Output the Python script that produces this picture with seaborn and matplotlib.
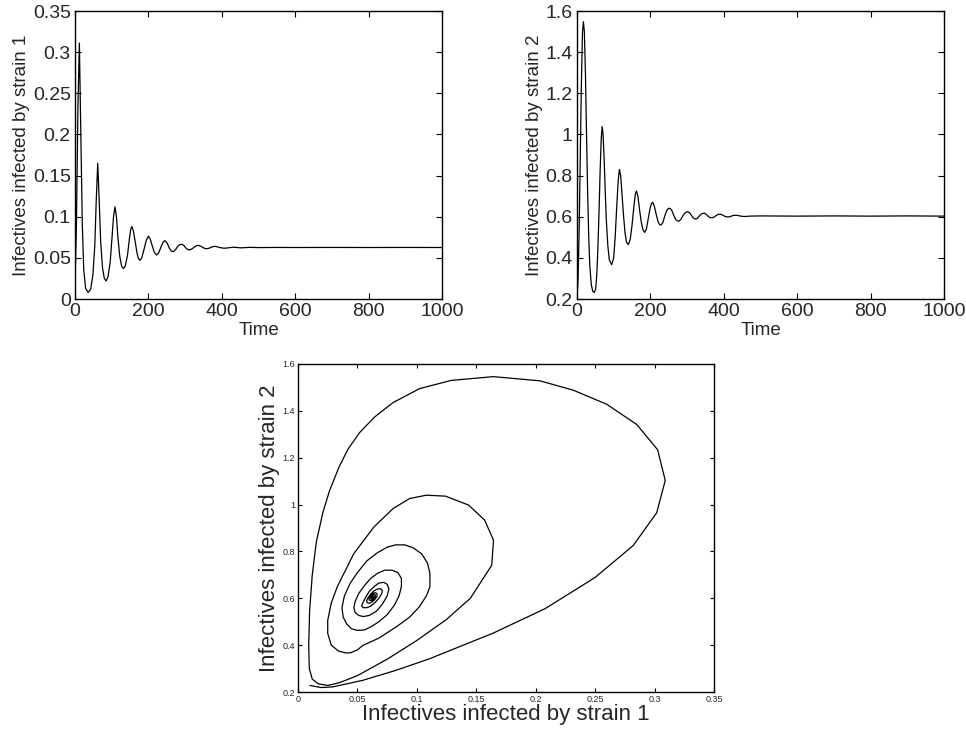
import numpy as np
import pandas as pd
import matplotlib
matplotlib.use("Agg")
import matplotlib.pyplot as plt
import seaborn as sns

# ---------------- data ----------------
# Strain 1 time series (time, value)
s1_time = [0, 4, 8, 12, 16, 20, 24, 29, 36, 43, 49, 54, 58, 62, 66, 70, 75, 80, 85, 90,
           96, 101, 105, 109, 113, 117, 122, 127, 132, 137, 143, 148, 152, 155, 159, 164,
           169, 173, 177, 182, 188, 194, 200, 205, 211, 216, 222, 228, 234, 240, 245, 251,
           257, 262, 268, 274, 280, 286, 291, 297, 303, 308, 313, 319, 326, 331, 337, 343,
           349, 355, 360, 366, 372, 378, 383, 395, 406, 418, 430, 441, 452, 476, 500, 550,
           600, 700, 800, 900, 1000]
s1_value = [0.017, 0.09, 0.23, 0.311, 0.2, 0.09, 0.035, 0.013, 0.008, 0.012, 0.03, 0.065,
            0.12, 0.165, 0.12, 0.07, 0.038, 0.025, 0.022, 0.027, 0.045, 0.075, 0.1, 0.112,
            0.1, 0.075, 0.052, 0.04, 0.037, 0.04, 0.053, 0.072, 0.085, 0.088, 0.083, 0.07,
            0.056, 0.049, 0.047, 0.05, 0.06, 0.071, 0.0765, 0.073, 0.064, 0.057, 0.0535,
            0.056, 0.063, 0.069, 0.071, 0.068, 0.062, 0.0585, 0.0575, 0.06, 0.064, 0.0662,
            0.0665, 0.065, 0.0615, 0.06, 0.0597, 0.061, 0.0635, 0.0648, 0.0652, 0.0642,
            0.0625, 0.0613, 0.0612, 0.0618, 0.0632, 0.0638, 0.064, 0.0625, 0.0617, 0.0622,
            0.063, 0.0626, 0.0622, 0.0628, 0.0625, 0.0627, 0.0626, 0.0627, 0.0626, 0.0627,
            0.0626]

# Strain 2 time series (time, value)
s2_time = [0, 3, 6, 9, 12, 15, 17.5, 20, 23, 26, 29, 32, 35, 39, 43, 47.5, 51, 54, 57, 60,
           63, 66, 68.5, 71, 74, 77, 80, 84, 88, 94.5, 100, 104, 108, 112, 115.5, 119, 123,
           127, 131, 135, 140, 145, 150, 155, 159, 162, 166, 170, 175, 180, 184.5, 189, 194,
           199, 203, 206.5, 211, 216, 221, 225, 229, 234, 239, 244, 249, 253.5, 258, 263,
           268, 273, 278, 283, 288, 293, 298, 302, 307, 312, 317, 322, 327, 333, 339, 346,
           352, 358, 363, 369, 375, 381, 387, 392, 398, 404, 410, 416, 422, 428, 436, 446,
           456, 470, 500, 600, 700, 800, 900, 1000]
s2_value = [0.205, 0.3, 0.55, 0.9, 1.25, 1.5, 1.548, 1.5, 1.3, 1.0, 0.72, 0.5, 0.36, 0.27,
            0.237, 0.232, 0.25, 0.32, 0.45, 0.62, 0.82, 0.98, 1.038, 1.0, 0.88, 0.72, 0.58,
            0.46, 0.39, 0.367, 0.4, 0.5, 0.64, 0.77, 0.83, 0.8, 0.7, 0.6, 0.52, 0.475, 0.465,
            0.49, 0.56, 0.65, 0.71, 0.725, 0.7, 0.64, 0.575, 0.535, 0.524, 0.54, 0.59, 0.64,
            0.665, 0.67, 0.65, 0.61, 0.575, 0.562, 0.56, 0.572, 0.603, 0.628, 0.64, 0.641,
            0.632, 0.61, 0.59, 0.58, 0.579, 0.587, 0.603, 0.616, 0.623, 0.624, 0.619, 0.606,
            0.594, 0.589, 0.591, 0.603, 0.614, 0.618, 0.612, 0.601, 0.596, 0.595, 0.6, 0.608,
            0.612, 0.612, 0.607, 0.601, 0.599, 0.6, 0.604, 0.607, 0.607, 0.603, 0.601, 0.603,
            0.604, 0.603, 0.604, 0.603, 0.604, 0.603]

# Phase-plane trajectory (strain 1, strain 2), in time order
phase_s1 = [0.010, 0.0196, 0.0294, 0.0546, 0.0827, 0.1107, 0.1387, 0.1645, 0.208, 0.25,
            0.282, 0.3018, 0.309, 0.3026, 0.285, 0.2598, 0.2317, 0.2037, 0.1645, 0.129,
            0.1023, 0.0799, 0.0645, 0.0518, 0.042, 0.0345, 0.0266, 0.021, 0.0154, 0.012,
            0.0098, 0.009, 0.0095, 0.012, 0.017, 0.025, 0.035, 0.05, 0.075, 0.1, 0.125,
            0.145, 0.163, 0.1645, 0.157, 0.1435, 0.124, 0.108, 0.094, 0.080, 0.064, 0.047,
            0.033, 0.028, 0.025, 0.025, 0.028, 0.034, 0.04, 0.044, 0.05, 0.0546, 0.068,
            0.0827, 0.094, 0.102, 0.108, 0.111, 0.111, 0.109, 0.104, 0.097, 0.09, 0.082,
            0.075, 0.067, 0.058, 0.05, 0.044, 0.039, 0.037, 0.038, 0.041, 0.045, 0.05,
            0.056, 0.062, 0.068, 0.075, 0.081, 0.085, 0.087, 0.087, 0.084, 0.079, 0.073,
            0.067, 0.061, 0.056, 0.051, 0.048, 0.047, 0.048, 0.051, 0.055, 0.06, 0.066,
            0.071, 0.075, 0.0765, 0.075, 0.072, 0.068, 0.064, 0.06, 0.057, 0.0545, 0.0535,
            0.055, 0.058, 0.061, 0.065, 0.068, 0.0705, 0.071, 0.0695, 0.067, 0.064, 0.0615,
            0.059, 0.0578, 0.058, 0.06, 0.0625, 0.065, 0.0665, 0.0665, 0.065, 0.063, 0.061,
            0.0598, 0.0598, 0.061, 0.063, 0.0645, 0.0652, 0.0648, 0.063, 0.0615, 0.0612,
            0.0615, 0.063, 0.064, 0.0638, 0.0625, 0.0618, 0.0622, 0.063, 0.0626, 0.0624,
            0.0628]
phase_s2 = [0.228, 0.219, 0.222, 0.25, 0.293, 0.342, 0.399, 0.452, 0.556, 0.689, 0.825,
            0.965, 1.103, 1.234, 1.342, 1.428, 1.488, 1.528, 1.546, 1.530, 1.495, 1.435,
            1.374, 1.307, 1.236, 1.16, 1.06, 0.968, 0.84, 0.7, 0.55, 0.4, 0.3, 0.255, 0.235,
            0.228, 0.24, 0.27, 0.34, 0.42, 0.51, 0.6, 0.741, 0.848, 0.934, 0.998, 1.036,
            1.04, 1.026, 0.983, 0.905, 0.791, 0.649, 0.58, 0.506, 0.45, 0.4, 0.375, 0.367,
            0.367, 0.38, 0.399, 0.43, 0.478, 0.52, 0.563, 0.61, 0.649, 0.706, 0.75, 0.79,
            0.815, 0.828, 0.828, 0.818, 0.795, 0.76, 0.71, 0.665, 0.61, 0.56, 0.52, 0.49,
            0.47, 0.463, 0.465, 0.48, 0.5, 0.53, 0.57, 0.61, 0.65, 0.685, 0.71, 0.72, 0.72,
            0.707, 0.684, 0.655, 0.62, 0.585, 0.56, 0.54, 0.527, 0.522, 0.527, 0.545, 0.575,
            0.61, 0.64, 0.66, 0.668, 0.665, 0.65, 0.63, 0.605, 0.58, 0.567, 0.56, 0.56,
            0.566, 0.583, 0.6, 0.62, 0.633, 0.641, 0.64, 0.632, 0.62, 0.603, 0.59, 0.582,
            0.579, 0.585, 0.597, 0.61, 0.62, 0.624, 0.621, 0.612, 0.6, 0.593, 0.59, 0.593,
            0.6, 0.61, 0.616, 0.617, 0.61, 0.602, 0.596, 0.596, 0.603, 0.61, 0.611, 0.604,
            0.6, 0.603, 0.606, 0.603, 0.604]

s1_ticks = [0, 0.05, 0.1, 0.15, 0.2, 0.25, 0.3, 0.35]
s1_ticklabels = ["0", "0.05", "0.1", "0.15", "0.2", "0.25", "0.3", "0.35"]
s2_ticks = [0.2, 0.4, 0.6, 0.8, 1.0, 1.2, 1.4, 1.6]
s2_ticklabels = ["0.2", "0.4", "0.6", "0.8", "1", "1.2", "1.4", "1.6"]
time_ticks = [0, 200, 400, 600, 800, 1000]
time_ticklabels = ["0", "200", "400", "600", "800", "1000"]

# ---------------- plotting ----------------
sns.set_style("white")
plt.rcParams["font.family"] = ["Liberation Sans", "DejaVu Sans"]

fig = plt.figure(figsize=(9.66, 7.34), dpi=100)
ax1 = fig.add_axes([0.0776, 0.5926, 0.380, 0.3924])
ax2 = fig.add_axes([0.5973, 0.5926, 0.380, 0.3924])
ax3 = fig.add_axes([0.3085, 0.0572, 0.4306, 0.4469])

df1 = pd.DataFrame({"Time": s1_time, "I1": s1_value})
df2 = pd.DataFrame({"Time": s2_time, "I2": s2_value})
dfp = pd.DataFrame({"I1": phase_s1, "I2": phase_s2})

sns.lineplot(data=df1, x="Time", y="I1", ax=ax1, color="black", lw=0.9,
             estimator=None, sort=False)
sns.lineplot(data=df2, x="Time", y="I2", ax=ax2, color="black", lw=0.9,
             estimator=None, sort=False)
sns.lineplot(data=dfp, x="I1", y="I2", ax=ax3, color="black", lw=0.9,
             estimator=None, sort=False)

for ax in (ax1, ax2, ax3):
    for sp in ax.spines.values():
        sp.set_visible(True)
        sp.set_color("black")
        sp.set_linewidth(1.0)
    ax.tick_params(direction="in", top=True, right=True, bottom=True, left=True,
                   color="black", width=0.8)

# top-left
ax1.set_xlim(0, 1000)
ax1.set_ylim(0, 0.35)
ax1.set_xticks(time_ticks)
ax1.set_xticklabels(time_ticklabels)
ax1.set_yticks(s1_ticks)
ax1.set_yticklabels(s1_ticklabels)
ax1.tick_params(labelsize=14, length=4, pad=3)
ax1.set_xlabel("Time", fontsize=13.5, labelpad=1)
ax1.set_ylabel("Infectives infected by strain 1", fontsize=13.5, labelpad=2)

# top-right
ax2.set_xlim(0, 1000)
ax2.set_ylim(0.2, 1.6)
ax2.set_xticks(time_ticks)
ax2.set_xticklabels(time_ticklabels)
ax2.set_yticks(s2_ticks)
ax2.set_yticklabels(s2_ticklabels)
ax2.tick_params(labelsize=14, length=4, pad=3)
ax2.set_xlabel("Time", fontsize=13.5, labelpad=1)
ax2.set_ylabel("Infectives infected by strain 2", fontsize=13.5, labelpad=2)

# bottom phase plot
ax3.set_xlim(0, 0.35)
ax3.set_ylim(0.2, 1.6)
ax3.set_xticks(s1_ticks)
ax3.set_xticklabels(s1_ticklabels)
ax3.set_yticks(s2_ticks)
ax3.set_yticklabels(s2_ticklabels)
ax3.tick_params(labelsize=6.5, length=3, pad=2)
ax3.set_xlabel("Infectives infected by strain 1", fontsize=16, labelpad=0)
ax3.set_ylabel("Infectives infected by strain 2", fontsize=16, labelpad=2)

fig.savefig("out.png", dpi=100)
